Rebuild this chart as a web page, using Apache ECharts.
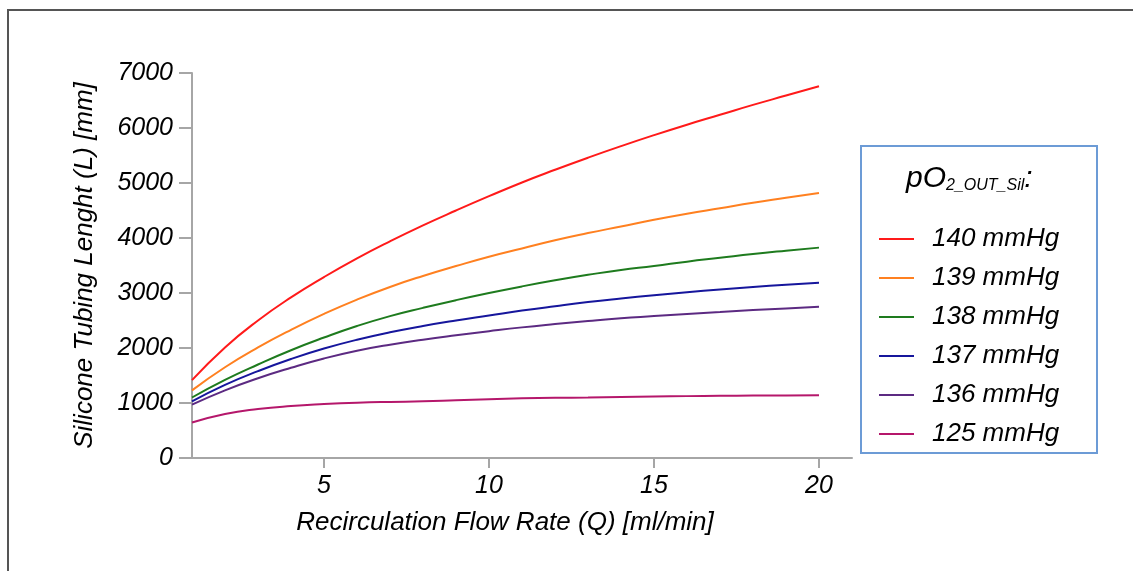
<!DOCTYPE html>
<html>
<head>
<meta charset="utf-8">
<title>Silicone Tubing Lenght</title>
<script src="https://cdn.jsdelivr.net/npm/echarts@6/dist/echarts.min.js"></script>
<style>
	html, body { margin: 0; padding: 0; background: #fff; }
	#tubingCharts { width: 1133px; height: 571px; }
</style>
</head>
<body>
<div id="tubingCharts"></div>
<script>
// flow rate Q [ml/min]
var flowRate = [1, 2, 3, 4, 5, 6, 7, 8, 9, 10, 11, 12, 13, 14, 15, 16, 17, 18, 19, 20];
// tubing length L [mm] per pO2 out
var len140 = [1415, 2010, 2500, 2920, 3290, 3630, 3940, 4230, 4500, 4760, 5010, 5240, 5460, 5670, 5870, 6060, 6240, 6420, 6590, 6760];
var len139 = [1230, 1650, 2010, 2330, 2620, 2880, 3110, 3310, 3490, 3660, 3810, 3960, 4090, 4210, 4330, 4440, 4540, 4640, 4730, 4820];
var len138 = [1100, 1420, 1700, 1960, 2190, 2400, 2580, 2730, 2870, 3000, 3120, 3230, 3330, 3420, 3490, 3570, 3640, 3710, 3770, 3825];
var len137 = [1030, 1330, 1580, 1800, 1990, 2150, 2285, 2400, 2500, 2590, 2680, 2760, 2835, 2900, 2960, 3015, 3065, 3110, 3150, 3187];
var len136 = [970, 1230, 1450, 1640, 1810, 1950, 2060, 2150, 2230, 2305, 2375, 2435, 2490, 2540, 2580, 2620, 2655, 2690, 2720, 2750];
var len125 = [645, 800, 890, 945, 980, 1005, 1020, 1030, 1050, 1070, 1085, 1095, 1100, 1110, 1120, 1125, 1130, 1135, 1138, 1142];
var seriesNames = ['140 mmHg', '139 mmHg', '138 mmHg', '137 mmHg', '136 mmHg', '125 mmHg'];
var seriesColors = ['#ff1a1a', '#ff8020', '#1e7b1e', '#16169c', '#5c2a82', '#b5176b'];
var xTicks = [5, 10, 15, 20];

var fontName = 'Liberation Sans, Arial, sans-serif';

function pairs(ys){
	var out = [];
	for(var i = 0; i < flowRate.length; i++){
		out.push([flowRate[i], ys[i]]);
	}
	return out;
}

function initTubingCharts(){
	var chart = echarts.init(document.getElementById('tubingCharts'));
	var allData = [len140, len139, len138, len137, len136, len125];
	var series = [];
	for(var i = 0; i < allData.length; i++){
		series.push({
			name: seriesNames[i],
			type: 'line',
			data: pairs(allData[i]),
			smooth: 0.5,
			showSymbol: false,
			lineStyle: { width: 2, color: seriesColors[i] },
			itemStyle: { color: seriesColors[i] }
		});
	}
	var option = {
		animation: false,
		backgroundColor: '#fff',
		title: {
			text: '{a|pO}{b|2_OUT_Sil}{a|:}',
			left: 901,
			top: 158,
			textStyle: {
				fontWeight: 'normal',
				rich: {
					a: { fontSize: 30, fontStyle: 'italic', fontWeight: 'normal', fontFamily: fontName, color: '#000' },
					b: { fontSize: 16, fontStyle: 'italic', fontWeight: 'normal', fontFamily: fontName, color: '#000', padding: [15, 0, 0, 0] }
				}
			}
		},
		legend: {
			orient: 'vertical',
			left: 874,
			top: 221,
			icon: 'rect',
			itemWidth: 35,
			itemHeight: 2,
			itemGap: 13,
			selectedMode: false,
			data: seriesNames,
			textStyle: {
				fontSize: 26,
				fontStyle: 'italic',
				fontFamily: fontName,
				color: '#000',
				lineHeight: 26,
				padding: [0, 0, 0, 13]
			}
		},
		grid: {
			left: 192,
			right: 281,
			top: 73,
			bottom: 113
		},
		xAxis: {
			type: 'value',
			min: 1,
			max: 21,
			name: 'Recirculation Flow Rate (Q) [ml/min]',
			nameLocation: 'middle',
			nameGap: 52,
			nameTextStyle: {
				fontSize: 26,
				fontStyle: 'italic',
				fontFamily: fontName,
				color: '#000',
				padding: [0, 34, 0, 0]
			},
			splitLine: { show: false },
			axisLine: { show: true, lineStyle: { color: '#a6a6a6', width: 2 } },
			axisTick: { show: true, length: 10, customValues: xTicks, lineStyle: { color: '#a6a6a6', width: 2 } },
			axisLabel: {
				customValues: xTicks,
				margin: 16,
				fontSize: 25,
				fontStyle: 'italic',
				fontFamily: fontName,
				color: '#000'
			}
		},
		yAxis: {
			type: 'value',
			min: 0,
			max: 7000,
			interval: 1000,
			name: 'Silicone Tubing Lenght (L) [mm]',
			nameLocation: 'middle',
			nameGap: 94,
			nameTextStyle: {
				fontSize: 26,
				fontStyle: 'italic',
				fontFamily: fontName,
				color: '#000'
			},
			splitLine: { show: false },
			axisLine: { show: true, lineStyle: { color: '#a6a6a6', width: 2 } },
			axisTick: { show: true, length: 13, lineStyle: { color: '#a6a6a6', width: 2 } },
			axisLabel: {
				margin: 19,
				fontSize: 25,
				fontStyle: 'italic',
				fontFamily: fontName,
				color: '#000',
				formatter: function(v){ return String(v); }
			}
		},
		graphic: [
			{
				// frame of the figure (top and left edges)
				type: 'polyline',
				shape: { points: [[8, 571], [8, 10], [1133, 10]] },
				style: { stroke: '#555', lineWidth: 2, fill: null },
				silent: true
			},
			{
				// legend box
				type: 'rect',
				shape: { x: 861, y: 146, width: 236, height: 307 },
				style: { stroke: '#6c9bd6', lineWidth: 2, fill: null },
				silent: true
			}
		],
		series: series
	};
	chart.setOption(option);
}

initTubingCharts();
</script>
</body>
</html>
